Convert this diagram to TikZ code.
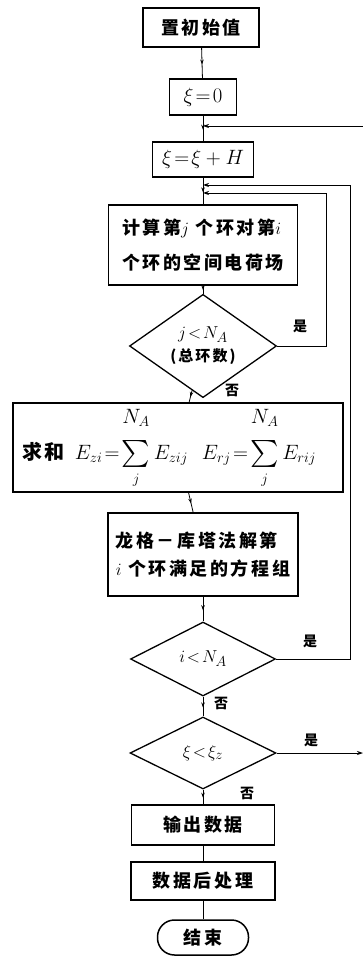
\documentclass[tikz,border=0pt]{standalone}
\usepackage{fontspec}
\usepackage{amsmath}
\usepackage{graphicx}
\usetikzlibrary{shapes.geometric,arrows.meta,decorations.markings}
\newfontfamily\cjk[LetterSpace=14]{Noto Sans CJK SC}
\newfontfamily\cjklab{Noto Sans CJK SC}
\newcommand{\mysum}{\mathop{\vcenter{\hbox{\scalebox{1.3}{$\textstyle\sum$}}}}\limits_{\rule{0pt}{12pt}j}^{\rule[-15pt]{0pt}{0pt}\textstyle N_A}}
\tikzset{
  box/.style={draw, line width=1.5pt, inner sep=0pt, align=left,
    font=\cjk\bfseries\fontsize{18}{22}\selectfont},
  dia/.style={draw, diamond, line width=1.3pt, inner sep=0pt, align=center,
    font=\fontsize{19}{22}\selectfont},
  term/.style={draw, rounded corners=17pt, line width=1.5pt, inner sep=0pt,
    font=\cjk\bfseries\fontsize{18}{22}\selectfont},
  conn/.style={line width=0.8pt},
  midarrow/.style={conn, postaction={decorate}, decoration={markings,
    mark=at position 0.55 with {\arrow{Stealth[length=5pt,width=3.5pt]}}}},
  endarrow/.style={conn, -{Stealth[length=6pt,width=4pt]}},
  lab/.style={font=\cjklab\bfseries\fontsize{14}{16}\selectfont, inner sep=0pt}
}
\begin{document}
\begin{tikzpicture}[x=1pt,y=-1pt]
\useasboundingbox (0,0) rectangle (363,957);
\def\cx{203}
\node[box, minimum width=116pt, minimum height=39pt, align=center] (b1) at (201,27.5) {置初始值};
\node[box, minimum width=67pt, minimum height=36pt, font=\fontsize{20}{22}\selectfont] (b2) at (\cx,97) {$\xi\!=\!0$};
\node[box, minimum width=101pt, minimum height=35pt, font=\fontsize{20}{22}\selectfont] (b3) at (\cx,159.5) {$\xi\!=\!\xi+H$};
\node[box, minimum width=189pt, minimum height=80pt, font=\cjk\bfseries\fontsize{18}{35}\selectfont] (b4) at (\cx,245)
  {计算第$j$\ 个环对第$i$\\个环的空间电荷场};
\node[dia, minimum width=147pt, minimum height=74pt] (d1) at (\cx,346)
  {$j\!<\!N_A$\\[1pt]{\cjk\bfseries\fontsize{15}{18}\selectfont(总环数)}};
\node[box, minimum width=330pt, minimum height=89pt, text width=312pt, align=left, font=\fontsize{20}{22}\selectfont] (b5) at (178,447.5)
  {{\cjk\bfseries 求和}\hspace{10pt}$E_{zi}\!=\!\mysum E_{zij}$\hspace{14pt}$E_{rj}\!=\!\mysum E_{rij}$};
\node[box, minimum width=190pt, minimum height=83pt, font=\cjk\bfseries\fontsize{18}{28}\selectfont] (b6) at (\cx,554.5)
  {龙格－库塔法解第\\$i$\ 个环满足的方程组};
\node[dia, minimum width=145pt, minimum height=74pt] (d2) at (\cx,659) {$i\!<\!N_A$};
\node[dia, minimum width=146pt, minimum height=72pt] (d3) at (\cx,753) {$\xi\!<\!\xi_z$};
\node[box, minimum width=143pt, minimum height=40pt, align=center] (b7) at (\cx,825) {输出数据};
\node[box, minimum width=144pt, minimum height=38pt, align=center] (b8) at (\cx,881) {数据后处理};
\node[term, minimum width=91pt, minimum height=35pt] (t) at (\cx,937.5) {结束};

\coordinate (j0) at (\cx,126);
\coordinate (j1) at (\cx,185);
\coordinate (j2) at (\cx,193);
\coordinate (e0) at (363,126);
\coordinate (e3) at (363,753);
\coordinate (o1) at (350,185);
\coordinate (o2) at (350,659);
\coordinate (i1) at (326,193);
\coordinate (i2) at (326,346);

\draw[midarrow] (b1) -- (b2);
\draw[midarrow] (b2) -- (b3);
\draw[midarrow] (b3) -- (b4);
\draw[midarrow] (b4) -- (d1);
\draw[midarrow] (d1) -- (b5);
\draw[midarrow] (b5) -- (b6);
\draw[midarrow] (b6) -- (d2);
\draw[midarrow] (d2) -- (d3);
\draw[midarrow] (d3) -- (b7);
\draw[conn] (b7) -- (b8);
\draw[conn] (b8) -- (t);

\draw[endarrow] (e0) -- (j0);
\draw[endarrow] (d1.east) -- (i2) -- (i1) -- (j2);
\draw[endarrow] (d2.east) -- (o2) -- (o1) -- (j1);
\draw[endarrow] (d3.east) -- (e3);

\node[lab] (y1) at (300,326) {是};
\node[lab] (n1) at (232,390) {否};
\node[lab] (y2) at (310,641) {是};
\node[lab] (n2) at (221,703) {否};
\node[lab] (y3) at (311,740) {是};
\node[lab] (n3) at (247,793) {否};
\end{tikzpicture}
\end{document}
